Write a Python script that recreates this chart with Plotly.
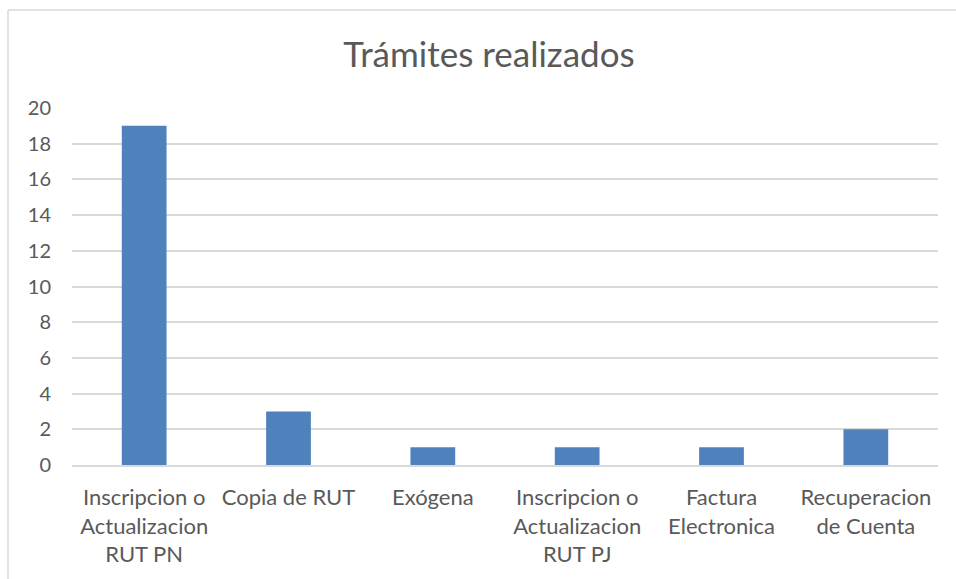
import plotly.graph_objects as go

categories = [
    "Inscripcion o<br>Actualizacion<br>RUT PN",
    "Copia de RUT",
    "Exógena",
    "Inscripcion o<br>Actualizacion<br>RUT PJ",
    "Factura<br>Electronica",
    "Recuperacion<br>de Cuenta",
]
values = [19, 3, 1, 1, 1, 2]
y_ticks = [0, 2, 4, 6, 8, 10, 12, 14, 16, 18, 20]

W, H = 956, 579
ml, mr, mt, mb = 72, 18, 108, 114
pw = W - ml - mr
ph = H - mt - mb

fig = go.Figure(
    go.Bar(
        x=categories,
        y=values,
        marker=dict(color="#4F81BD", line=dict(width=0)),
    )
)

bx = (8 - ml) / pw
by = 1 + (mt - 10) / ph
fig.add_shape(type="line", xref="paper", yref="paper", x0=bx, x1=bx, y0=-1, y1=by,
              line=dict(color="#D9D9D9", width=1.5))
fig.add_shape(type="line", xref="paper", yref="paper", x0=bx, x1=1.2, y0=by, y1=by,
              line=dict(color="#D9D9D9", width=1.5))

fig.update_layout(
    width=W,
    height=H,
    margin=dict(l=ml, r=mr, t=mt, b=mb),
    paper_bgcolor="white",
    plot_bgcolor="white",
    bargap=0.69,
    showlegend=False,
    font=dict(family="Lato, Noto Sans, sans-serif", color="#595959", size=20),
    title=dict(
        text="Trámites realizados",
        x=489 / W,
        xref="container",
        xanchor="center",
        y=1 - 55 / H,
        yref="container",
        yanchor="middle",
        font=dict(size=35, color="#595959"),
    ),
    xaxis=dict(
        showgrid=False,
        showline=True,
        linecolor="#D9D9D9",
        linewidth=1.5,
        ticks="",
        ticklabelstandoff=12,
        tickfont=dict(size=22),
    ),
    yaxis=dict(
        range=[0, 20],
        tickvals=y_ticks,
        showgrid=True,
        gridcolor="#D9D9D9",
        gridwidth=1.5,
        zeroline=False,
        showline=False,
        ticks="",
        ticklabelstandoff=20,
        tickfont=dict(size=20),
    ),
)

fig.write_html(
    "out.html",
    config={"displayModeBar": False},
    post_script="document.body.style.margin='0';document.body.style.overflow='hidden';",
)
